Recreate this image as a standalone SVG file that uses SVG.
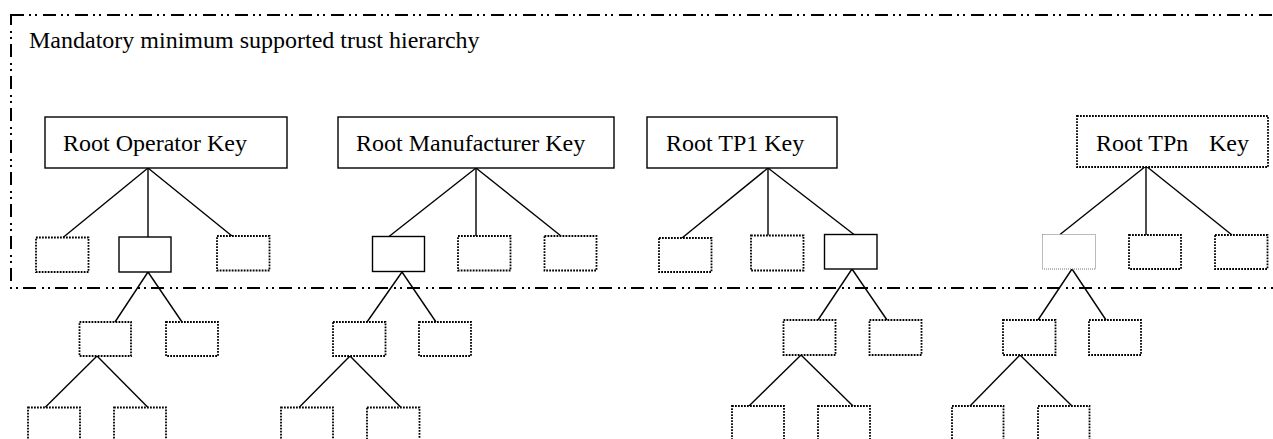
<svg xmlns="http://www.w3.org/2000/svg" width="1273" height="439" viewBox="0 0 1273 439">
<style>
text{font-family:'Liberation Serif',Tinos,'Times New Roman','Nimbus Roman','DejaVu Serif',serif;font-size:24px;fill:#000}
.solid{fill:#fff;stroke:#000;stroke-width:1.4}
.dot{fill:#fff;stroke:#000;stroke-width:1.8;stroke-dasharray:1.8 1.2}
.faint{fill:#fff;stroke:#777;stroke-width:1;stroke-dasharray:1 1}
.frame{fill:none;stroke:#000;stroke-width:2;stroke-dasharray:13 5 2 4 2 6}
#connectors line{stroke:#000;stroke-width:1.4}
</style>
<rect id="frame" class="frame" x="11" y="15" width="1300" height="273"/>
<text id="title" x="29" y="48" font-family="Liberation Serif, serif">Mandatory minimum supported trust hierarchy</text>
<g id="connectors">
<line x1="148" y1="168" x2="63" y2="237.5"/>
<line x1="148" y1="168" x2="148" y2="237"/>
<line x1="148" y1="168" x2="232" y2="236"/>
<line x1="148" y1="272" x2="115" y2="322"/>
<line x1="148" y1="272" x2="182" y2="322"/>
<line x1="97" y1="356" x2="45" y2="407.5"/>
<line x1="97" y1="356" x2="148" y2="407.5"/>
<line x1="476" y1="168" x2="389" y2="236.5"/>
<line x1="476" y1="168" x2="476" y2="236"/>
<line x1="476" y1="168" x2="561" y2="236"/>
<line x1="402" y1="272" x2="367" y2="322"/>
<line x1="402" y1="272" x2="436" y2="322"/>
<line x1="350" y1="356" x2="299" y2="407.5"/>
<line x1="350" y1="356" x2="401" y2="407.5"/>
<line x1="768" y1="168" x2="682" y2="238"/>
<line x1="768" y1="168" x2="768" y2="235.5"/>
<line x1="768" y1="168" x2="854" y2="234.5"/>
<line x1="852" y1="269" x2="818" y2="320"/>
<line x1="852" y1="269" x2="887" y2="320"/>
<line x1="801" y1="355" x2="749" y2="406"/>
<line x1="801" y1="355" x2="853" y2="406"/>
<line x1="1146" y1="166" x2="1060" y2="234.5"/>
<line x1="1146" y1="166" x2="1146" y2="235"/>
<line x1="1146" y1="166" x2="1232" y2="235"/>
<line x1="1072" y1="269" x2="1038" y2="320"/>
<line x1="1072" y1="269" x2="1106" y2="320"/>
<line x1="1020" y1="355" x2="970" y2="406"/>
<line x1="1020" y1="355" x2="1072" y2="406"/>
</g>
<g id="root-operator"><rect class="solid" x="45" y="117" width="242" height="51"/><text x="63" y="151">Root Operator Key</text></g>
<g id="root-manufacturer"><rect class="solid" x="338" y="117" width="276" height="51"/><text x="356" y="151">Root Manufacturer Key</text></g>
<g id="root-tp1"><rect class="solid" x="647" y="117" width="190" height="51"/><text x="666" y="151">Root TP1 Key</text></g>
<g id="root-tpn"><rect class="dot" x="1077" y="116" width="191" height="51"/><text x="1096" y="151">Root TPn <tspan x="1209">Key</tspan></text></g>

<g id="op-c1"><rect class="dot" x="36" y="237.5" width="52.5" height="34.5"/></g>
<g id="op-c2"><rect class="solid" x="119" y="237" width="52" height="35"/></g>
<g id="op-c3"><rect class="dot" x="217" y="236" width="52.5" height="34.5"/></g>
<g id="op-g1"><rect class="dot" x="79.5" y="322" width="51.5" height="34"/></g>
<g id="op-g2"><rect class="dot" x="166" y="322" width="52" height="34"/></g>
<g id="op-gg1"><rect class="dot" x="28" y="407.5" width="52" height="52"/></g>
<g id="op-gg2"><rect class="dot" x="114" y="407.5" width="52" height="52"/></g>

<g id="mf-c1"><rect class="solid" x="372.5" y="236.5" width="52" height="35"/></g>
<g id="mf-c2"><rect class="dot" x="458" y="236" width="52.5" height="34.5"/></g>
<g id="mf-c3"><rect class="dot" x="544.5" y="236" width="52" height="34.5"/></g>
<g id="mf-g1"><rect class="dot" x="333" y="322" width="52.5" height="34"/></g>
<g id="mf-g2"><rect class="dot" x="419" y="322" width="52" height="34"/></g>
<g id="mf-gg1"><rect class="dot" x="281" y="407.5" width="52" height="52"/></g>
<g id="mf-gg2"><rect class="dot" x="367" y="407.5" width="52.5" height="52"/></g>

<g id="tp1-c1"><rect class="dot" x="659" y="238" width="52.5" height="34"/></g>
<g id="tp1-c2"><rect class="dot" x="751" y="235.5" width="52.5" height="35"/></g>
<g id="tp1-c3"><rect class="solid" x="824.5" y="234.5" width="52.5" height="34.5"/></g>
<g id="tp1-g1"><rect class="dot" x="783.5" y="320" width="52" height="35"/></g>
<g id="tp1-g2"><rect class="dot" x="869.5" y="320" width="52" height="35"/></g>
<g id="tp1-gg1"><rect class="dot" x="732" y="406" width="52" height="52"/></g>
<g id="tp1-gg2"><rect class="dot" x="818" y="406" width="52" height="52"/></g>

<g id="tpn-c1"><rect class="faint" x="1042.5" y="234.5" width="53" height="34.5"/></g>
<g id="tpn-c2"><rect class="dot" x="1129" y="235" width="52" height="34"/></g>
<g id="tpn-c3"><rect class="dot" x="1215" y="235" width="52.5" height="34"/></g>
<g id="tpn-g1"><rect class="dot" x="1003" y="320" width="52.5" height="35"/></g>
<g id="tpn-g2"><rect class="dot" x="1089" y="320" width="52" height="35"/></g>
<g id="tpn-gg1"><rect class="dot" x="952" y="406" width="51.5" height="52"/></g>
<g id="tpn-gg2"><rect class="dot" x="1038" y="406" width="51.5" height="52"/></g>
</svg>
